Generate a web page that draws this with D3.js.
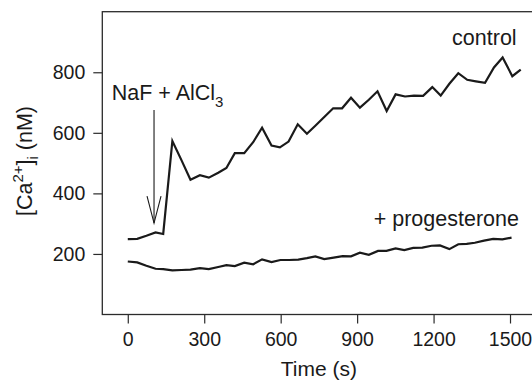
<!DOCTYPE html>
<html>
<head>
<meta charset="utf-8">
<script src="https://cdn.jsdelivr.net/npm/d3@7"></script>
<style>
  body { margin: 0; background: #fff; }
  svg { display: block; font-family: "Liberation Sans", Arial, Helvetica, sans-serif; }
</style>
</head>
<body>
<div id="chart"></div>
<script>
// values
var controlTime = [0, 37, 73, 109, 139, 175, 211, 246, 283, 318, 355, 387, 420, 457, 492, 527, 564, 597, 631, 667, 703, 737, 771, 806, 841, 876, 911, 946, 980, 1016, 1051, 1088, 1123, 1159, 1195, 1228, 1262, 1297, 1332, 1366, 1402, 1437, 1471, 1509, 1542];
var controlCa = [249, 250, 260, 271, 266, 573, 509, 445, 460, 452, 468, 484, 533, 533, 569, 617, 558, 552, 571, 628, 597, 624, 652, 681, 681, 716, 683, 709, 737, 672, 727, 720, 723, 722, 751, 723, 762, 797, 775, 770, 765, 816, 849, 787, 809];

var progTime = [0, 37, 73, 109, 139, 175, 211, 246, 283, 318, 355, 387, 420, 457, 492, 527, 564, 599, 633, 669, 703, 736, 771, 808, 843, 876, 911, 946, 982, 1015, 1051, 1085, 1120, 1156, 1192, 1225, 1262, 1297, 1330, 1362, 1398, 1434, 1470, 1506];
var progCa = [175, 172, 161, 151, 150, 146, 147, 148, 153, 150, 157, 163, 160, 171, 166, 182, 173, 180, 180, 181, 186, 192, 183, 188, 193, 192, 204, 197, 210, 210, 218, 213, 220, 221, 227, 228, 216, 232, 233, 237, 244, 250, 248, 254];

var xTicks = [0, 300, 600, 900, 1200, 1500];
var yTicks = [200, 400, 600, 800];

// NaF + AlCl3 addition
var arrowTime = 103;
var arrowFrom = 675;
var arrowTo = 302;

var width = 532, height = 381;
var margin = { top: 11.7, left: 102.3 };
var plotW = 433.2, plotH = 302.8;

var svg = d3.select("#chart").append("svg")
    .attr("width", width)
    .attr("height", height);

var g = svg.append("g")
    .attr("transform", "translate(" + margin.left + "," + margin.top + ")");

var x = d3.scaleLinear().domain([-100, 1600]).range([0, plotW]);
var y = d3.scaleLinear().domain([0, 1000]).range([plotH, 0]);

var ink = "#1a1a1a";
var axisInk = "#2b2b2b";

// frame
g.append("rect")
    .attr("x", 0).attr("y", 0)
    .attr("width", plotW).attr("height", plotH)
    .attr("fill", "none")
    .attr("stroke", axisInk)
    .attr("stroke-width", 1.3);

// x axis
var xAxis = g.append("g")
    .attr("transform", "translate(0," + plotH + ")")
    .call(d3.axisBottom(x).tickValues(xTicks).tickSize(9).tickPadding(9).tickFormat(d3.format("d")));
xAxis.select(".domain").remove();
xAxis.selectAll("line").attr("stroke", axisInk).attr("stroke-width", 1.2);
xAxis.selectAll("text").attr("fill", ink).style("font-size", "19.5px").attr("font-family", null);

// y axis
var yAxis = g.append("g")
    .call(d3.axisLeft(y).tickValues(yTicks).tickSize(9).tickPadding(8).tickFormat(d3.format("d")));
yAxis.select(".domain").remove();
yAxis.selectAll("line").attr("stroke", axisInk).attr("stroke-width", 1.2);
yAxis.selectAll("text").attr("fill", ink).style("font-size", "19.5px").attr("font-family", null);

// lines
var line = d3.line()
    .x(function (d) { return x(d[0]); })
    .y(function (d) { return y(d[1]); });

var control = controlTime.map(function (t, i) { return [t, controlCa[i]]; });
var prog = progTime.map(function (t, i) { return [t, progCa[i]]; });

g.append("path")
    .datum(control)
    .attr("fill", "none")
    .attr("stroke", ink)
    .attr("stroke-width", 2.2)
    .attr("stroke-linejoin", "miter")
    .attr("d", line);

g.append("path")
    .datum(prog)
    .attr("fill", "none")
    .attr("stroke", ink)
    .attr("stroke-width", 2.2)
    .attr("d", line);

// arrow
var ax = x(arrowTime);
g.append("line")
    .attr("x1", ax).attr("x2", ax)
    .attr("y1", y(arrowFrom)).attr("y2", y(arrowTo))
    .attr("stroke", ink)
    .attr("stroke-width", 1.1);
g.append("path")
    .attr("d", "M" + (ax - 7) + "," + (y(arrowTo) - 27) + "L" + ax + "," + y(arrowTo) + "L" + (ax + 7) + "," + (y(arrowTo) - 27))
    .attr("fill", "none")
    .attr("stroke", ink)
    .attr("stroke-width", 1.1);

// labels
var naf = g.append("text")
    .attr("x", x(-63)).attr("y", y(709))
    .attr("fill", ink)
    .style("font-size", "21.5px");
naf.append("tspan").text("NaF + AlCl");
naf.append("tspan").attr("dy", 7).style("font-size", "15px").text("3");

g.append("text")
    .attr("x", x(1526)).attr("y", y(890))
    .attr("text-anchor", "end")
    .attr("fill", ink)
    .style("font-size", "21.5px")
    .text("control");

g.append("text")
    .attr("x", x(1535)).attr("y", y(293))
    .attr("text-anchor", "end")
    .attr("fill", ink)
    .style("font-size", "21.5px")
    .text("+ progesterone");

// axis titles
svg.append("text")
    .attr("x", margin.left + x(750)).attr("y", 375.5)
    .attr("text-anchor", "middle")
    .attr("fill", ink)
    .style("font-size", "21px")
    .text("Time (s)");

var yt = svg.append("text")
    .attr("transform", "translate(32,161) rotate(-90)")
    .attr("text-anchor", "middle")
    .attr("fill", ink)
    .style("font-size", "21.5px");
yt.append("tspan").text("[Ca");
yt.append("tspan").attr("dy", -9).style("font-size", "15px").text("2+");
yt.append("tspan").attr("dy", 9).text("]");
yt.append("tspan").attr("dy", 6).style("font-size", "15px").text("i");
yt.append("tspan").attr("dy", -6).text(" (nM)");
</script>
</body>
</html>
